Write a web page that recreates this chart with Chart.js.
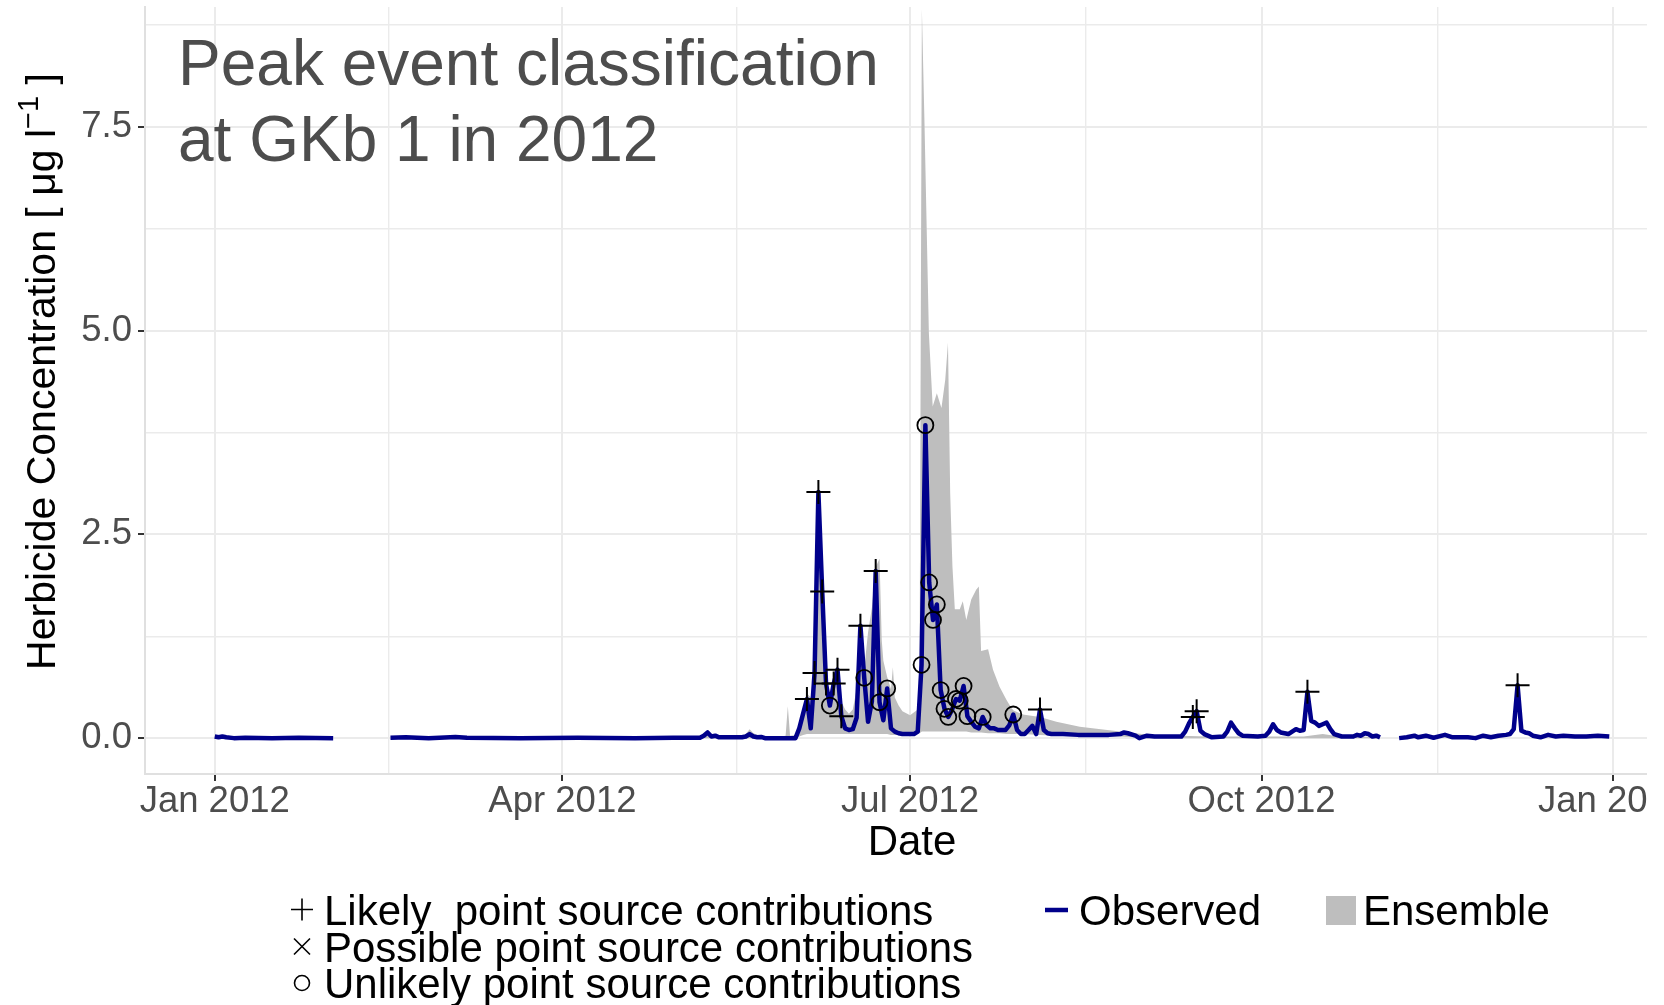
<!DOCTYPE html>
<html>
<head>
<meta charset="utf-8">
<title>Peak event classification at GKb 1 in 2012</title>
<script src="https://cdn.jsdelivr.net/npm/chart.js@4.4.1/dist/chart.umd.min.js"></script>
<style>
  html, body { margin: 0; padding: 0; background: #ffffff; }
  #wrap { position: absolute; left: 0; top: 0; width: 1647px; height: 1005px; overflow: hidden; background: #ffffff; }
  canvas { display: block; }
</style>
</head>
<body>
<div id="wrap"><canvas id="chart" width="1720" height="1005" style="width:1720px;height:1005px"></canvas></div>
<script>
// ---- Observed daily herbicide concentration (µg/l); null marks a gap in the record ----
const obsDates = [
  '2012-01-01','2012-01-02','2012-01-03','2012-01-04','2012-01-06','2012-01-09','2012-01-16','2012-01-23','2012-02-01',
  '2012-02-08',
  '2012-02-16','2012-02-20','2012-02-26','2012-03-04','2012-03-07','2012-03-21','2012-04-05','2012-04-20','2012-04-30',
  '2012-05-07','2012-05-08','2012-05-09','2012-05-10','2012-05-11','2012-05-12','2012-05-18','2012-05-19','2012-05-20',
  '2012-05-21','2012-05-22','2012-05-23','2012-05-24','2012-06-01','2012-06-02','2012-06-03','2012-06-04','2012-06-05',
  '2012-06-06','2012-06-07','2012-06-08','2012-06-09','2012-06-10','2012-06-11','2012-06-12','2012-06-13','2012-06-14',
  '2012-06-15','2012-06-16','2012-06-17','2012-06-18','2012-06-19','2012-06-20','2012-06-21','2012-06-22','2012-06-23',
  '2012-06-24','2012-06-25','2012-06-26','2012-06-27','2012-06-28','2012-06-29','2012-06-30','2012-07-01','2012-07-02',
  '2012-07-03','2012-07-04','2012-07-05','2012-07-06','2012-07-07','2012-07-08','2012-07-09','2012-07-10','2012-07-11',
  '2012-07-12','2012-07-13','2012-07-14','2012-07-15','2012-07-16','2012-07-17','2012-07-18','2012-07-19','2012-07-20',
  '2012-07-21','2012-07-22','2012-07-23','2012-07-24','2012-07-25','2012-07-26','2012-07-27','2012-07-28','2012-07-29',
  '2012-07-30','2012-07-31','2012-08-01','2012-08-02','2012-08-03','2012-08-04','2012-08-05','2012-08-06','2012-08-07',
  '2012-08-10','2012-08-14','2012-08-18','2012-08-22','2012-08-25','2012-08-26','2012-08-27','2012-08-29','2012-08-30',
  '2012-09-01','2012-09-03','2012-09-10','2012-09-11','2012-09-12','2012-09-13','2012-09-14','2012-09-15','2012-09-16',
  '2012-09-18','2012-09-21','2012-09-22','2012-09-23','2012-09-24','2012-09-25','2012-09-26','2012-09-30','2012-10-02',
  '2012-10-03','2012-10-04','2012-10-05','2012-10-06','2012-10-08','2012-10-10','2012-10-11','2012-10-12','2012-10-13',
  '2012-10-14','2012-10-15','2012-10-16','2012-10-17','2012-10-18','2012-10-19','2012-10-20','2012-10-22','2012-10-25',
  '2012-10-26','2012-10-27','2012-10-28','2012-10-29','2012-10-30','2012-10-31','2012-11-01',
  '2012-11-03',
  '2012-11-06','2012-11-08','2012-11-10','2012-11-11','2012-11-13','2012-11-15','2012-11-18','2012-11-20','2012-11-24',
  '2012-11-26','2012-11-28','2012-11-30','2012-12-02','2012-12-04','2012-12-05','2012-12-06','2012-12-07','2012-12-08',
  '2012-12-09','2012-12-10','2012-12-11','2012-12-13','2012-12-15','2012-12-17','2012-12-19','2012-12-22','2012-12-25',
  '2012-12-28','2012-12-31'
];
const obsValues = [
  0.02, 0.01, 0.02, 0.01, 0.0, 0.005, 0.0, 0.005, 0.0,
  null,
  0.005, 0.01, 0.0, 0.015, 0.005, 0.0, 0.005, 0.0, 0.005,
  0.005, 0.03, 0.07, 0.02, 0.03, 0.01, 0.01, 0.02, 0.05,
  0.02, 0.01, 0.015, 0.0, 0.0, 0.12, 0.30, 0.48, 0.12,
  0.80, 3.02, 1.80, 0.67, 0.40, 0.67, 0.84, 0.27, 0.12,
  0.10, 0.11, 0.25, 1.38, 0.74, 0.20, 0.45, 2.05, 0.44,
  0.22, 0.61, 0.12, 0.08, 0.06, 0.05, 0.05, 0.05, 0.05,
  0.08, 0.90, 3.84, 1.91, 1.45, 1.64, 0.59, 0.36, 0.26,
  0.35, 0.48, 0.46, 0.64, 0.27, 0.20, 0.14, 0.12, 0.26,
  0.16, 0.12, 0.12, 0.10, 0.10, 0.10, 0.16, 0.29, 0.10,
  0.05, 0.05, 0.10, 0.15, 0.05, 0.35, 0.10, 0.06, 0.05,
  0.05, 0.04, 0.04, 0.04, 0.05, 0.07, 0.06, 0.03, 0.0,
  0.03, 0.02, 0.02, 0.08, 0.18, 0.26, 0.33, 0.09, 0.05,
  0.01, 0.02, 0.08, 0.19, 0.12, 0.06, 0.03, 0.02, 0.03,
  0.08, 0.17, 0.10, 0.07, 0.05, 0.11, 0.09, 0.10, 0.57,
  0.21, 0.19, 0.15, 0.17, 0.19, 0.11, 0.05, 0.02, 0.02,
  0.04, 0.03, 0.06, 0.05, 0.02, 0.03, 0.01,
  null,
  0.0, 0.01, 0.03, 0.01, 0.03, 0.005, 0.04, 0.01, 0.01,
  0.0, 0.03, 0.01, 0.03, 0.04, 0.05, 0.11, 0.65, 0.09,
  0.07, 0.06, 0.03, 0.01, 0.04, 0.02, 0.03, 0.02, 0.02,
  0.03, 0.02
];

// ---- Model ensemble envelope (upper / lower bound) ----
const ensDates = [
  '2012-04-30','2012-05-07','2012-05-08','2012-05-09','2012-05-10','2012-05-18','2012-05-19','2012-05-20','2012-05-21',
  '2012-05-22','2012-05-23','2012-05-28','2012-05-29T10:00','2012-05-30','2012-05-30T14:00','2012-06-01','2012-06-02',
  '2012-06-03','2012-06-04','2012-06-05','2012-06-06','2012-06-07','2012-06-08','2012-06-09','2012-06-10','2012-06-11',
  '2012-06-12','2012-06-13','2012-06-14','2012-06-15','2012-06-16','2012-06-17','2012-06-18','2012-06-19','2012-06-20',
  '2012-06-21','2012-06-22','2012-06-23','2012-06-23T14:00','2012-06-24','2012-06-25','2012-06-26','2012-06-26T12:00',
  '2012-06-27','2012-06-28','2012-06-29','2012-07-01','2012-07-03','2012-07-03T12:00','2012-07-04T02:00','2012-07-04T19:00',
  '2012-07-05T22:00','2012-07-06T22:00','2012-07-08','2012-07-09T05:00','2012-07-10T05:00','2012-07-10T22:00',
  '2012-07-11T12:00','2012-07-12T02:00','2012-07-12T17:00','2012-07-14','2012-07-14T19:00','2012-07-15T17:00',
  '2012-07-17','2012-07-18T07:00','2012-07-19','2012-07-19T14:00','2012-07-21T10:00','2012-07-22T17:00',
  '2012-07-24T10:00','2012-07-26T05:00','2012-07-27T12:00','2012-07-28T02:00','2012-07-30T12:00','2012-08-04',
  '2012-08-08T07:00','2012-08-14T10:00','2012-08-24T22:00','2012-09-02','2012-09-17','2012-10-12','2012-10-17',
  '2012-10-20','2012-11-01'
];
const ensUpper = [
  0.01, 0.01, 0.04, 0.08, 0.03, 0.02, 0.05, 0.11, 0.06,
  0.04, 0.03, 0.02, 0.03, 0.39, 0.03, 0.04, 0.15,
  0.35, 0.55, 0.50, 0.85, 3.05, 1.85, 0.72, 0.55, 0.72,
  0.90, 0.45, 0.35, 0.30, 0.35, 0.60, 1.42, 0.85, 1.30,
  1.60, 2.10, 2.20, 1.20, 0.95, 0.75, 0.60, 0.87,
  0.50, 0.40, 0.33, 0.28, 0.35, 1.00, 8.95, 7.50,
  4.97, 4.07, 4.23, 4.05, 4.40, 4.85,
  3.00, 2.11, 1.58, 1.58, 1.68, 1.45,
  1.70, 1.82, 1.86, 1.07, 1.09, 0.84,
  0.63, 0.47, 0.37, 0.34, 0.29, 0.26,
  0.20, 0.14, 0.08, 0.04, 0.02, 0.02, 0.05,
  0.03, 0.01
];
const ensLower = [
  0, 0, 0, 0, 0, 0, 0, 0, 0,
  0, 0, 0, 0, 0, 0, 0, 0.02,
  0.04, 0.05, 0.05, 0.05, 0.05, 0.05, 0.05, 0.05, 0.05,
  0.05, 0.05, 0.05, 0.05, 0.05, 0.05, 0.05, 0.05, 0.05,
  0.05, 0.05, 0.05, 0.05, 0.05, 0.05, 0.04, 0.04,
  0.04, 0.04, 0.04, 0.04, 0.05, 0.06, 0.08, 0.08,
  0.08, 0.08, 0.08, 0.08, 0.08, 0.08,
  0.08, 0.08, 0.08, 0.08, 0.08, 0.08,
  0.07, 0.07, 0.07, 0.07, 0.06, 0.06,
  0.06, 0.05, 0.05, 0.05, 0.05, 0.04,
  0.03, 0.02, 0.02, 0, 0, 0, 0,
  0, 0
];

// ---- Peak event classification (dates of classified observations) ----
const likelyDates = [
  '2012-06-04','2012-06-06','2012-06-07','2012-06-08','2012-06-09','2012-06-11','2012-06-12','2012-06-13',
  '2012-06-18','2012-06-22','2012-08-04','2012-09-13','2012-09-14','2012-10-13','2012-12-07'
];
const possibleDates = [];
const unlikelyDates = [
  '2012-06-10','2012-06-19','2012-06-23','2012-06-25','2012-07-04','2012-07-05','2012-07-06','2012-07-07',
  '2012-07-08','2012-07-09','2012-07-10','2012-07-11','2012-07-13','2012-07-14','2012-07-15','2012-07-16',
  '2012-07-20','2012-07-28'
];

// ---- Axis ticks ----
const tickDates = ['2012-01-01', '2012-04-01', '2012-07-01', '2012-10-01', '2013-01-01'];
const tickLabels = ['Jan 2012', 'Apr 2012', 'Jul 2012', 'Oct 2012', 'Jan 2013'];
const yTickValues = [0, 2.5, 5, 7.5];
const yTickLabels = ['0.0', '2.5', '5.0', '7.5'];

// ---- Text ----
const headline = ['Peak event classification', 'at GKb 1 in 2012'];
const xTitle = 'Date';
const yTitleParts = ['Herbicide Concentration [ μg l', '−1', ' ]'];
const legendShapeLabels = ['Likely  point source contributions', 'Possible point source contributions', 'Unlikely point source contributions'];
const legendObserved = 'Observed';
const legendEnsemble = 'Ensemble';

// ---- Helpers ----
const ORIGIN = Date.UTC(2012, 0, 1);
const toDay = s => (Date.parse(s.length === 10 ? s + 'T00:00:00Z' : s + ':00Z') - ORIGIN) / 864e5;
const obsByDate = {};
obsDates.forEach((d, i) => { obsByDate[d] = obsValues[i]; });
const toPoints = (dates, vals) => dates.map((d, i) => ({ x: toDay(d), y: vals[i] }));
const markerPoints = dates => dates.map(d => ({ x: toDay(d), y: obsByDate[d] }));

const xMajor = tickDates.map(toDay);
const xMinor = xMajor.slice(1).map((v, i) => (v + xMajor[i]) / 2);
const yMinor = yTickValues.map(v => v + 1.25);
const isXMajor = v => xMajor.some(m => Math.abs(m - v) < 1e-6);
const isYMajor = v => yTickValues.some(m => Math.abs(m - v) < 1e-6);

const FONT = "'Liberation Sans', Arial, Helvetica, sans-serif";
const OBS_COLOR = '#00008b';
const ENS_COLOR = '#bebebe';
const GRID_COLOR = '#ebebeb';

Chart.defaults.font.family = FONT;

// Headline, rotated y title with superscript, and the three-part legend
const decorations = {
  id: 'decorations',
  afterDraw(chart) {
    const { ctx, chartArea } = chart;
    ctx.save();

    // headline in the upper-left corner of the panel
    ctx.fillStyle = '#4d4d4d';
    ctx.font = `64px ${FONT}`;
    ctx.textAlign = 'left';
    ctx.textBaseline = 'alphabetic';
    headline.forEach((t, i) => ctx.fillText(t, chartArea.left + 33, chartArea.top + 78 + i * 76.3));

    // y axis title
    const mainFont = `41px ${FONT}`;
    const supFont = `29px ${FONT}`;
    ctx.font = mainFont;
    const w0 = ctx.measureText(yTitleParts[0]).width;
    const w2 = ctx.measureText(yTitleParts[2]).width;
    ctx.font = supFont;
    const w1 = ctx.measureText(yTitleParts[1]).width;
    const total = w0 + w1 + w2;
    const centerY = (chartArea.top + chartArea.bottom) / 2 - 19;
    ctx.translate(55, 0);
    ctx.rotate(-Math.PI / 2);
    ctx.fillStyle = '#000000';
    let u = -(centerY + total / 2);
    ctx.font = mainFont;
    ctx.fillText(yTitleParts[0], u, 0);
    u += w0;
    ctx.font = supFont;
    ctx.fillText(yTitleParts[1], u, -17);
    u += w1;
    ctx.font = mainFont;
    ctx.fillText(yTitleParts[2], u, 0);
    ctx.restore();

    // legend
    ctx.save();
    ctx.fillStyle = '#000000';
    ctx.strokeStyle = '#000000';
    ctx.font = `42px ${FONT}`;
    ctx.textAlign = 'left';
    ctx.textBaseline = 'alphabetic';
    const rowBase = [924.5, 961.5, 998];
    const symX = 302;
    legendShapeLabels.forEach((t, i) => {
      const cy = rowBase[i] - 15;
      ctx.lineWidth = 1.6;
      ctx.beginPath();
      if (i === 0) {
        ctx.moveTo(symX - 11, cy); ctx.lineTo(symX + 11, cy);
        ctx.moveTo(symX, cy - 11); ctx.lineTo(symX, cy + 11);
      } else if (i === 1) {
        ctx.moveTo(symX - 8, cy - 8); ctx.lineTo(symX + 8, cy + 8);
        ctx.moveTo(symX - 8, cy + 8); ctx.lineTo(symX + 8, cy - 8);
      } else {
        ctx.arc(symX, cy, 7.5, 0, Math.PI * 2);
      }
      ctx.stroke();
      ctx.fillText(t, 324, rowBase[i]);
    });
    // observed key
    ctx.strokeStyle = OBS_COLOR;
    ctx.lineWidth = 4.5;
    ctx.beginPath();
    ctx.moveTo(1045, 910);
    ctx.lineTo(1068, 910);
    ctx.stroke();
    ctx.fillText(legendObserved, 1079, rowBase[0]);
    // ensemble key
    ctx.fillStyle = ENS_COLOR;
    ctx.fillRect(1326, 896, 30, 29);
    ctx.fillStyle = '#000000';
    ctx.fillText(legendEnsemble, 1363, rowBase[0]);
    ctx.restore();
  }
};

new Chart(document.getElementById('chart'), {
  type: 'line',
  data: {
    datasets: [
      {
        label: 'Ensemble',
        data: toPoints(ensDates, ensUpper),
        borderColor: 'rgba(0,0,0,0)',
        borderWidth: 0,
        backgroundColor: ENS_COLOR,
        pointRadius: 0,
        fill: '+1',
        tension: 0,
        order: 4
      },
      {
        label: 'Ensemble lower',
        data: toPoints(ensDates, ensLower),
        borderColor: 'rgba(0,0,0,0)',
        borderWidth: 0,
        pointRadius: 0,
        fill: false,
        tension: 0,
        order: 4
      },
      {
        label: 'Observed',
        data: toPoints(obsDates, obsValues),
        borderColor: OBS_COLOR,
        borderWidth: 4.5,
        borderJoinStyle: 'round',
        borderCapStyle: 'butt',
        pointRadius: 0,
        fill: false,
        spanGaps: false,
        tension: 0,
        order: 2
      },
      {
        label: 'Likely point source contributions',
        data: markerPoints(likelyDates),
        showLine: false,
        pointStyle: 'cross',
        pointRadius: 12,
        pointBorderWidth: 2,
        borderColor: '#000000',
        backgroundColor: 'rgba(0,0,0,0)',
        order: 1
      },
      {
        label: 'Possible point source contributions',
        data: markerPoints(possibleDates),
        showLine: false,
        pointStyle: 'crossRot',
        pointRadius: 10,
        pointBorderWidth: 2,
        borderColor: '#000000',
        backgroundColor: 'rgba(0,0,0,0)',
        order: 1
      },
      {
        label: 'Unlikely point source contributions',
        data: markerPoints(unlikelyDates),
        showLine: false,
        pointStyle: 'circle',
        pointRadius: 8,
        pointBorderWidth: 1.8,
        borderColor: '#000000',
        backgroundColor: 'rgba(0,0,0,0)',
        order: 1
      }
    ]
  },
  options: {
    responsive: false,
    devicePixelRatio: 1,
    animation: false,
    events: [],
    layout: { autoPadding: false, padding: { left: 0, top: 7, right: 41, bottom: 0 } },
    plugins: {
      legend: { display: false },
      tooltip: { enabled: false },
      title: { display: false }
    },
    scales: {
      x: {
        type: 'linear',
        min: -18.25,
        max: 383.25,
        afterBuildTicks: s => { s.ticks = xMajor.concat(xMinor).sort((a, b) => a - b).map(v => ({ value: v })); },
        afterFit: s => { s.height = 231; s.paddingLeft = 0; s.paddingRight = 0; },
        ticks: {
          autoSkip: false,
          maxRotation: 0,
          minRotation: 0,
          padding: 3,
          color: '#4d4d4d',
          font: { size: 36.5, lineHeight: 1 },
          callback: v => { const i = xMajor.findIndex(m => Math.abs(m - v) < 1e-6); return i >= 0 ? tickLabels[i] : ''; }
        },
        grid: {
          color: GRID_COLOR,
          lineWidth: c => (c.tick && isXMajor(c.tick.value)) ? 2 : 1.4,
          tickLength: 7,
          tickWidth: 2,
          tickColor: c => (c.tick && isXMajor(c.tick.value)) ? '#333333' : 'rgba(0,0,0,0)'
        },
        border: { display: true, color: '#e0e0e0', width: 2 },
        title: {
          display: true,
          text: xTitle,
          color: '#000000',
          font: { size: 42, lineHeight: 1 },
          padding: { top: 0, bottom: 141 }
        }
      },
      y: {
        type: 'linear',
        min: -0.44,
        max: 8.97,
        afterBuildTicks: s => { s.ticks = yTickValues.concat(yMinor).sort((a, b) => a - b).map(v => ({ value: v })); },
        afterFit: s => { s.width = 145; s.paddingTop = 0; s.paddingBottom = 0; },
        ticks: {
          padding: 6,
          color: '#4d4d4d',
          font: { size: 36.5, lineHeight: 1 },
          callback: v => { const i = yTickValues.findIndex(m => Math.abs(m - v) < 1e-6); return i >= 0 ? yTickLabels[i] : ''; }
        },
        grid: {
          color: GRID_COLOR,
          lineWidth: c => (c.tick && isYMajor(c.tick.value)) ? 2 : 1.4,
          tickLength: 7,
          tickWidth: 2,
          tickColor: c => (c.tick && isYMajor(c.tick.value)) ? '#333333' : 'rgba(0,0,0,0)'
        },
        border: { display: true, color: '#e0e0e0', width: 2 },
        title: { display: false }
      }
    }
  },
  plugins: [decorations]
});
</script>
</body>
</html>
